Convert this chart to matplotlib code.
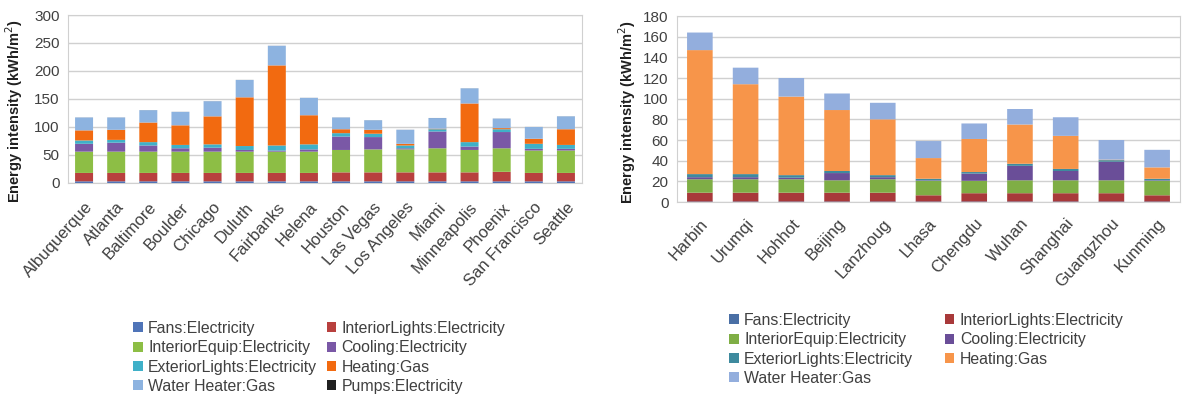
import matplotlib
matplotlib.use("Agg")
import matplotlib.pyplot as plt
from matplotlib.patches import Patch

plt.rcParams["font.family"] = ["Liberation Sans", "DejaVu Sans"]

# ---- US cities (kWh/m2 per end use) ----
cities_us = ["Albuquerque", "Atlanta", "Baltimore", "Boulder", "Chicago", "Duluth",
             "Fairbanks", "Helena", "Houston", "Las Vegas", "Los Angeles", "Miami",
             "Minneapolis", "Phoenix", "San Francisco", "Seattle"]
fans_us = [3, 3, 3, 3, 3, 3, 3, 3, 3, 3, 3, 3, 3, 3, 3, 3]
lights_us = [15, 15, 15, 15, 15, 15, 15, 15, 16, 16, 16, 16, 16, 17, 15, 15]
equip_us = [38, 38, 38, 38, 38, 38, 38, 38, 40, 41, 41, 43, 40, 42, 40, 40]
cooling_us = [14, 16, 11, 6, 7, 3, 2, 4, 24, 22, 2, 30, 6, 29, 3, 3]
extlights_us = [6, 5, 6, 6, 6, 7, 9, 9, 6, 6, 5, 4, 8, 5, 9, 7]
heating_us = [18, 18, 35, 35, 50, 87, 143, 52, 7, 7, 3, 1, 69, 2, 9, 28]
water_us = [23, 22, 22, 24, 27, 31, 35, 31, 21, 17, 25, 19, 27, 17, 21, 23]
pumps_us = [0.1, 0.1, 0.1, 0.1, 0.1, 0.1, 0.1, 0.1, 0.1, 0.1, 0.1, 0.1, 0.1, 0.1,
            0.1, 0.1]

# ---- Chinese cities ----
cities_cn = ["Harbin", "Urumqi", "Hohhot", "Beijing", "Lanzhoug", "Lhasa",
             "Chengdu", "Wuhan", "Shanghai", "Guangzhou", "Kunming"]
fans_cn = [0.5, 0.5, 0.5, 0.5, 0.5, 0.5, 0.5, 0.5, 0.5, 0.5, 0.5]
lights_cn = [8.5, 8.5, 8.5, 8.5, 8.5, 6, 8, 8, 8, 8, 6]
equip_cn = [13, 13, 13, 12, 13, 14, 12, 12.5, 12.5, 12.5, 14]
cooling_cn = [2, 2, 1.5, 7, 2, 0.5, 7, 14, 9, 18, 0.5]
extlights_cn = [3, 3, 2.5, 2, 2, 1.5, 1.5, 2, 2, 1.5, 1.5]
heating_cn = [120, 87, 76, 59, 54, 20, 32, 38, 32, 0.5, 11]
water_cn = [17, 16, 18, 16, 16, 16.5, 15, 15, 18, 19, 17]

labels = ["Fans:Electricity", "InteriorLights:Electricity", "InteriorEquip:Electricity",
          "Cooling:Electricity", "ExteriorLights:Electricity", "Heating:Gas",
          "Water Heater:Gas", "Pumps:Electricity"]

colors_us = ["#4F74B8", "#B8403E", "#8DBE45", "#7A58A6", "#3FB0C8", "#F26A10",
             "#8DB3E0", "#202020"]
colors_cn = ["#4A6FA5", "#A8393A", "#7FAE45", "#6A4E98", "#3E8A9E", "#F7954A",
             "#93AEDD"]

W, H = 1183, 397
fig = plt.figure(figsize=(W / 100, H / 100), dpi=100)


def px_axes(x0, y0, x1, y1):
    return fig.add_axes([x0 / W, 1 - y1 / H, (x1 - x0) / W, (y1 - y0) / H])


def stacked(ax, cats, series, colors, ymax, ystep, xpad):
    x = range(len(cats))
    bottom = [0.0] * len(cats)
    for vals, c in zip(series, colors):
        ax.bar(x, vals, bottom=bottom, width=0.56, color=c, linewidth=0, zorder=3,
               snap=False)
        bottom = [b + v for b, v in zip(bottom, vals)]
    ax.set_xlim(-0.5, len(cats) - 0.5)
    ax.set_ylim(0, ymax)
    ax.set_yticks(range(0, ymax + 1, ystep))
    ax.set_xticks(list(x))
    ax.set_xticklabels(cats, rotation=48, ha="right", va="top",
                       rotation_mode="anchor", fontsize=12, color="#404040")
    ax.tick_params(axis="y", labelsize=11, colors="#404040", length=0, pad=6)
    ax.tick_params(axis="x", length=0, pad=xpad)
    ax.grid(axis="y", color="#D0D0D0", linewidth=1.0, zorder=0)
    for s in ax.spines.values():
        s.set_color("#D0D0D0")


ax1 = px_axes(68, 15, 582, 183)
stacked(ax1, cities_us,
        [fans_us, lights_us, equip_us, cooling_us, extlights_us, heating_us,
         water_us, pumps_us], colors_us, 300, 50, 12)

ax2 = px_axes(677, 16, 1180, 202)
stacked(ax2, cities_cn,
        [fans_cn, lights_cn, equip_cn, cooling_cn, extlights_cn, heating_cn,
         water_cn], colors_cn, 180, 20, 10)

ylab = "Energy intensity (kWh/m$^2$)"
fig.text(14 / W, 1 - 111 / H, ylab, rotation=90, ha="center", va="center",
         fontsize=10.5, fontweight="bold", color="#202020")
fig.text(627 / W, 1 - 112 / H, ylab, rotation=90, ha="center", va="center",
         fontsize=10.5, fontweight="bold", color="#202020")


def legend(labels_, colors_, x, y, colsp):
    # row-major reading order in a two-column legend
    order = list(range(0, len(labels_), 2)) + list(range(1, len(labels_), 2))
    handles = [Patch(facecolor=colors_[i], edgecolor="none") for i in order]
    fig.legend(handles, [labels_[i] for i in order], loc="upper left",
               bbox_to_anchor=(x / W, 1 - y / H),
               ncol=2, frameon=False, fontsize=11.4, handlelength=0.6,
               handleheight=0.6, handletextpad=0.35, columnspacing=colsp,
               labelspacing=0.27, borderpad=0, borderaxespad=0,
               labelcolor="#404040")


legend(labels, colors_us, 133, 321, 0.6)
legend(labels[:7], colors_cn, 729, 313, 2.0)

fig.savefig("out.png", dpi=100)
